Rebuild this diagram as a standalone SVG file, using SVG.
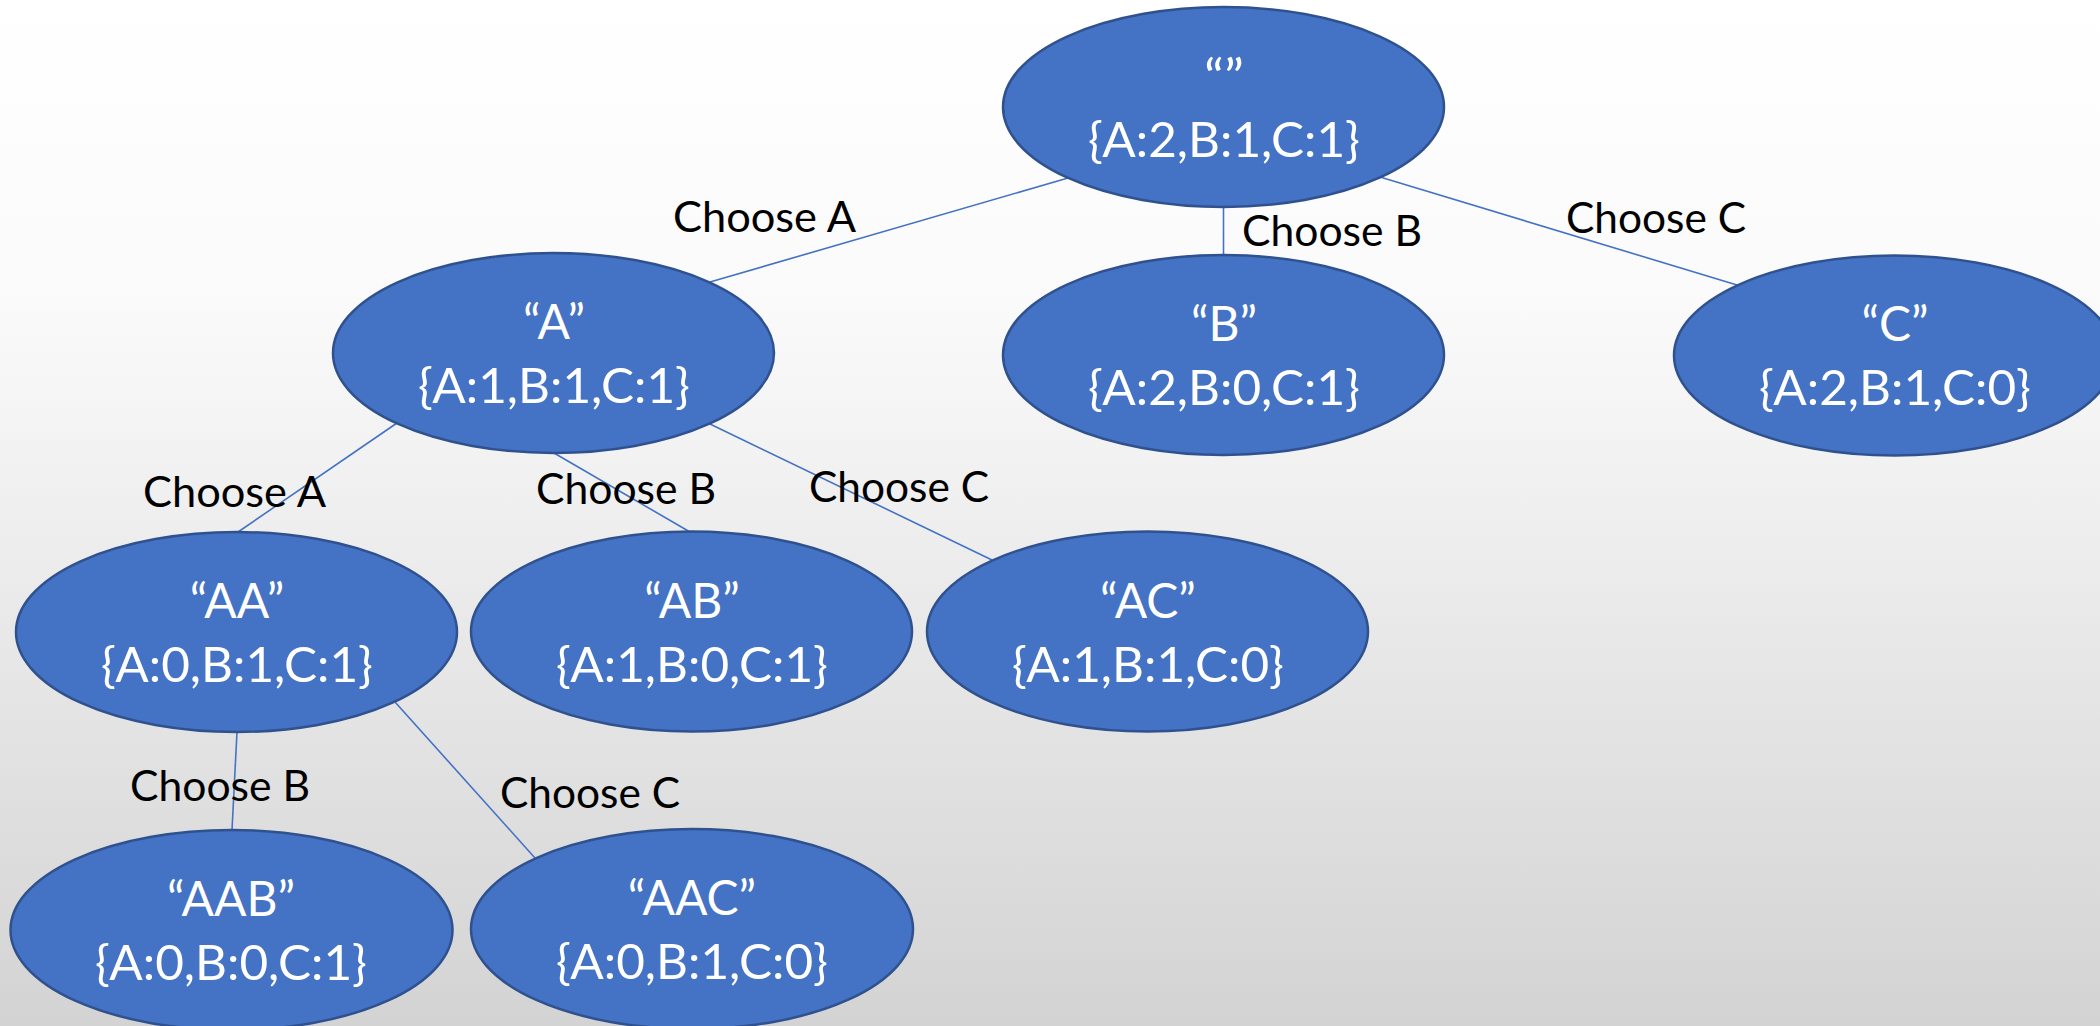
<svg xmlns="http://www.w3.org/2000/svg" width="2100" height="1026" viewBox="0 0 2100 1026">
<defs>
<linearGradient id="bg" x1="0" y1="0" x2="0" y2="1">
<stop offset="0" stop-color="#ffffff"/>
<stop offset="0.3" stop-color="#fafafa"/>
<stop offset="1" stop-color="#d3d3d3"/>
</linearGradient>
</defs>
<style>
.node ellipse{fill:#4472c4;stroke:#2f528f;stroke-width:2.5}
.node text{fill:#ffffff;font-family:Lato,"Open Sans","Liberation Sans",sans-serif;font-size:48px;text-anchor:middle}
.edge{stroke:#4472c4;stroke-width:1.6;fill:none}
.lbl{fill:#000000;font-family:Lato,"Open Sans","Liberation Sans",sans-serif;font-size:43px}
</style>
<rect x="0" y="0" width="2100" height="1026" fill="url(#bg)"/>
<g id="connectors">
<line class="edge" x1="1068" y1="178" x2="710" y2="282"/>
<line class="edge" x1="1223.5" y1="207" x2="1223.5" y2="255"/>
<line class="edge" x1="1380" y1="177" x2="1737" y2="285"/>
<line class="edge" x1="397" y1="423" x2="238" y2="532"/>
<line class="edge" x1="554" y1="453" x2="690" y2="532"/>
<line class="edge" x1="710" y1="424" x2="992" y2="560"/>
<line class="edge" x1="237" y1="732" x2="232" y2="830"/>
<line class="edge" x1="395" y1="702" x2="535" y2="858"/>
</g>
<g id="node-root" class="node">
<ellipse cx="1223.5" cy="107" rx="220.5" ry="100"/>
<text x="1224" y="94" textLength="40" lengthAdjust="spacingAndGlyphs">“”</text>
<text x="1224" y="157" textLength="272" lengthAdjust="spacingAndGlyphs">{A:2,B:1,C:1}</text>
</g>
<g id="node-A" class="node">
<ellipse cx="553.5" cy="353" rx="220.5" ry="100"/>
<text x="554" y="339">“A”</text>
<text x="554" y="403" textLength="272" lengthAdjust="spacingAndGlyphs">{A:1,B:1,C:1}</text>
</g>
<g id="node-B" class="node">
<ellipse cx="1223.5" cy="355" rx="220.5" ry="100"/>
<text x="1224" y="341">“B”</text>
<text x="1224" y="405" textLength="272" lengthAdjust="spacingAndGlyphs">{A:2,B:0,C:1}</text>
</g>
<g id="node-C" class="node">
<ellipse cx="1894.5" cy="355.5" rx="220.5" ry="100"/>
<text x="1895" y="341">“C”</text>
<text x="1895" y="405" textLength="272" lengthAdjust="spacingAndGlyphs">{A:2,B:1,C:0}</text>
</g>
<g id="node-AA" class="node">
<ellipse cx="236.5" cy="632" rx="220.5" ry="100"/>
<text x="237" y="618">“AA”</text>
<text x="237" y="682" textLength="272" lengthAdjust="spacingAndGlyphs">{A:0,B:1,C:1}</text>
</g>
<g id="node-AB" class="node">
<ellipse cx="691.5" cy="631.5" rx="220.5" ry="100"/>
<text x="692" y="618">“AB”</text>
<text x="692" y="682" textLength="272" lengthAdjust="spacingAndGlyphs">{A:1,B:0,C:1}</text>
</g>
<g id="node-AC" class="node">
<ellipse cx="1147.5" cy="631.5" rx="220.5" ry="100"/>
<text x="1148" y="618">“AC”</text>
<text x="1148" y="682" textLength="272" lengthAdjust="spacingAndGlyphs">{A:1,B:1,C:0}</text>
</g>
<g id="node-AAB" class="node">
<ellipse cx="231.5" cy="930" rx="221" ry="100"/>
<text x="231" y="916">“AAB”</text>
<text x="231" y="980" textLength="272" lengthAdjust="spacingAndGlyphs">{A:0,B:0,C:1}</text>
</g>
<g id="node-AAC" class="node">
<ellipse cx="692" cy="929" rx="221" ry="100"/>
<text x="692" y="915">“AAC”</text>
<text x="692" y="979" textLength="272" lengthAdjust="spacingAndGlyphs">{A:0,B:1,C:0}</text>
</g>
<g id="labels">
<text class="lbl" x="673" y="232" textLength="183" lengthAdjust="spacingAndGlyphs">Choose A</text>
<text class="lbl" x="1242" y="246" textLength="180" lengthAdjust="spacingAndGlyphs">Choose B</text>
<text class="lbl" x="1566" y="233" textLength="180" lengthAdjust="spacingAndGlyphs">Choose C</text>
<text class="lbl" x="143" y="507" textLength="183" lengthAdjust="spacingAndGlyphs">Choose A</text>
<text class="lbl" x="536" y="504" textLength="180" lengthAdjust="spacingAndGlyphs">Choose B</text>
<text class="lbl" x="809" y="502" textLength="180" lengthAdjust="spacingAndGlyphs">Choose C</text>
<text class="lbl" x="130" y="801" textLength="180" lengthAdjust="spacingAndGlyphs">Choose B</text>
<text class="lbl" x="500" y="808" textLength="180" lengthAdjust="spacingAndGlyphs">Choose C</text>
</g>
</svg>
